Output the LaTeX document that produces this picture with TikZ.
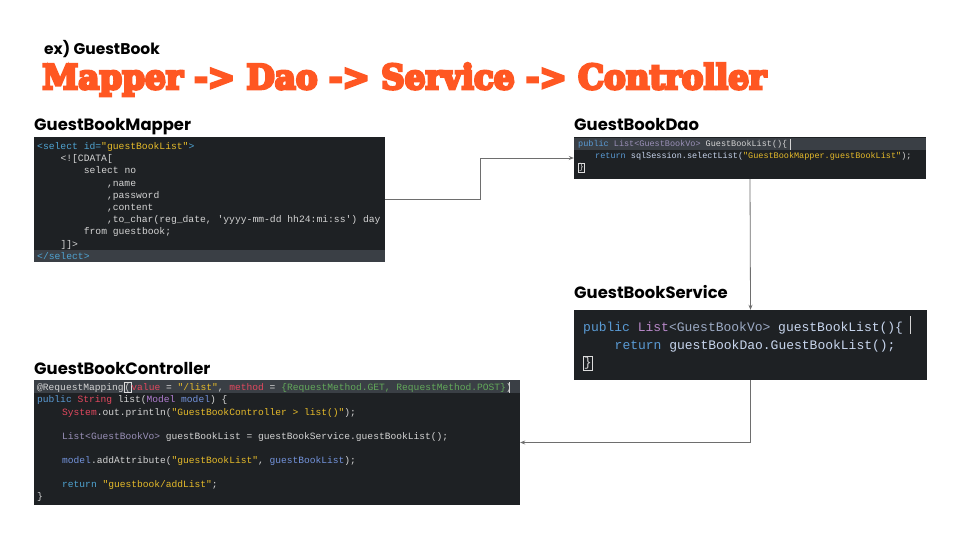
\documentclass[tikz,border=0pt]{standalone}
\usepackage{fontspec}
\usepackage{graphicx}
\usetikzlibrary{arrows.meta}
\setmainfont{Poppins}
\setmonofont{Liberation Mono}
\newfontfamily\titlefont{DejaVu Serif}[UprightFont={* Bold}, FakeBold=8]
\definecolor{titleorange}{HTML}{FF5722}
\definecolor{codebg}{HTML}{1E2124}
\definecolor{hlrow}{HTML}{3A3F45}
\definecolor{codefg}{HTML}{D4D4D4}
\definecolor{ckw}{HTML}{5A9BD5}
\definecolor{ctag}{HTML}{4FA3D1}
\definecolor{cstr}{HTML}{E6BB2A}
\definecolor{ctype}{HTML}{9A90B8}
\definecolor{cpink}{HTML}{B888C8}
\definecolor{cgb}{HTML}{9CAAC4}
\definecolor{cident}{HTML}{C8D6EE}
\definecolor{cred}{HTML}{E2485E}
\definecolor{cgreen}{HTML}{62A85A}
\definecolor{cblue}{HTML}{7393DC}
\definecolor{cpurple}{HTML}{B07CD0}
\definecolor{connc}{HTML}{6E6E6E}
\tikzset{
  codebox/.style={rectangle, fill=codebg, draw=none, inner sep=0pt},
  cl/.style={anchor=base west, inner sep=0pt, text=codefg},
  mfont/.style={font=\ttfamily\fontsize{9.7}{11}\selectfont},
  dfont/.style={font=\ttfamily\fontsize{8.5}{10}\selectfont},
  sfont/.style={font=\ttfamily\fontsize{13}{15}\selectfont},
  cfont/.style={font=\ttfamily\fontsize{9.6}{11}\selectfont},
  lbl/.style={anchor=base west, inner sep=0pt, font=\fontsize{16.4}{18}\selectfont\bfseries, text=black},
  conn/.style={draw=connc, line width=0.8pt, -{Stealth[length=5pt,width=4pt]}},
  matchbox/.style={draw=codefg!80, line width=0.5pt, inner sep=0.6pt}
}
\begin{document}
\begin{tikzpicture}[x=1pt,y=-1pt]
\useasboundingbox (0,0) rectangle (960,540);
\fill[white] (0,0) rectangle (960,540);

% headings
\node[anchor=base west, inner sep=0pt, font=\fontsize{15.5}{17}\selectfont\bfseries] (ex) at (44,55) {ex) GuestBook};
\node[anchor=base west, inner sep=0pt, text=titleorange] (title) at (42,89)
  {\resizebox{724pt}{\height}{\titlefont\fontsize{34}{38}\selectfont Mapper -> Dao -> Service -> Controller}};

\node[lbl] (lmap) at (34,131) {GuestBookMapper};
\node[lbl] (ldao) at (574,131) {GuestBookDao};
\node[lbl] (lsvc) at (574,298) {GuestBookService};
\node[lbl] (lctl) at (34,374) {GuestBookController};

% code boxes
\node[codebox, minimum width=351pt, minimum height=125pt] (mapper) at (209.5,199.5) {};
\node[codebox, minimum width=352pt, minimum height=42pt] (dao) at (750,158) {};
\node[codebox, minimum width=353pt, minimum height=70pt] (service) at (750.5,345) {};
\node[codebox, minimum width=486pt, minimum height=125pt] (controller) at (277,442.5) {};

% highlighted rows
\fill[hlrow] (34,250) rectangle (385,262);
\fill[hlrow] (574,138) rectangle (926,150);
\fill[hlrow] (34,380) rectangle (520,393);

% mapper code
\node[cl,mfont] (m0) at (37,149.5) {\textcolor{ctag}{<select id=}\textcolor{cstr}{"guestBookList"}\textcolor{ctag}{>}};
\node[cl,mfont] (m1) at (60.3,161.7) {<![CDATA[};
\node[cl,mfont] (m2) at (83.6,173.9) {select no};
\node[cl,mfont] (m3) at (106.8,186.1) {,name};
\node[cl,mfont] (m4) at (106.8,198.3) {,password};
\node[cl,mfont] (m5) at (106.8,210.5) {,content};
\node[cl,mfont] (m6) at (106.8,222.7) {,to\_char(reg\_date, 'yyyy-mm-dd hh24:mi:ss') day};
\node[cl,mfont] (m7) at (83.6,234.9) {from guestbook;};
\node[cl,mfont] (m8) at (60.3,247.1) {]]>};
\node[cl,mfont] (m9) at (37,259.3) {\textcolor{ctag}{</select>}};

% dao code
\node[cl,dfont] (d0) at (578,147) {\textcolor{ckw}{public} \textcolor{ctype}{List<GuestBookVo>} GuestBookList()\{};
\node[cl,dfont] (d1) at (595,159) {\textcolor{ckw}{return} \textcolor{cident}{sqlSession.selectList(}\textcolor{cstr}{"GuestBookMapper.guestBookList"});};
\node[cl,dfont,matchbox,anchor=base west] (d2) at (578,170) {\}};
\draw[codefg, line width=0.8pt] (790,139) -- (790,150);

% service code
\node[cl,sfont] (s0) at (583,331.6) {\textcolor{ckw}{public} \textcolor{cpink}{List}\textcolor{cgb}{<GuestBookVo>} \textcolor{cident}{guestBookList()\{}};
\node[cl,sfont] (s1) at (614.5,349.6) {\textcolor{ckw}{return} \textcolor{cident}{guestBookDao.GuestBookList();}};
\node[cl,sfont,matchbox,anchor=base west] (s2) at (583,366.6) {\}};
\draw[codefg, line width=0.9pt] (910,316) -- (910,334);

% controller code
\node[cl,cfont] (c0) at (37,390) {@RequestMapping};
\node[cl,cfont,matchbox,anchor=base west] (c0b) at (c0.base east) {(};
\node[cl,cfont] (c0c) at (c0b.base east) {\textcolor{cred}{value} \textcolor{codefg!70}{=} \textcolor{cstr}{"/list"}, \textcolor{cred}{method} \textcolor{codefg!70}{=} \textcolor{cgreen}{\{RequestMethod.GET, RequestMethod.POST\}})};
\draw[codefg, line width=0.8pt] (509.5,382) -- (509.5,393);
\node[cl,cfont] (c1) at (37,402.4) {\textcolor{ckw}{public} \textcolor{cred}{String} list(\textcolor{cpurple}{Model} \textcolor{cblue}{model}) \{};
\node[cl,cfont] (c2) at (62,415) {\textcolor{cred}{System}.out.println(\textcolor{cstr}{"GuestBookController > list()"});};
\node[cl,cfont] (c3) at (62,439.4) {\textcolor{ctype}{List<GuestBookVo>} guestBookList = guestBookService.guestBookList();};
\node[cl,cfont] (c4) at (62,463.4) {\textcolor{cblue}{model}.addAttribute(\textcolor{cstr}{"guestBookList"}, \textcolor{cblue}{guestBookList});};
\node[cl,cfont] (c5) at (62,487.4) {\textcolor{ctag}{return} \textcolor{cstr}{"guestbook/addList"};};
\node[cl,cfont] (c6) at (37,499.4) {\}};

% connectors
\draw[conn] (mapper.east) -- ++(95,0) |- (dao.west);
\draw[conn] (dao.south) -- (service.north);
\draw[conn] (service.south) |- (controller.east);
\end{tikzpicture}
\end{document}
